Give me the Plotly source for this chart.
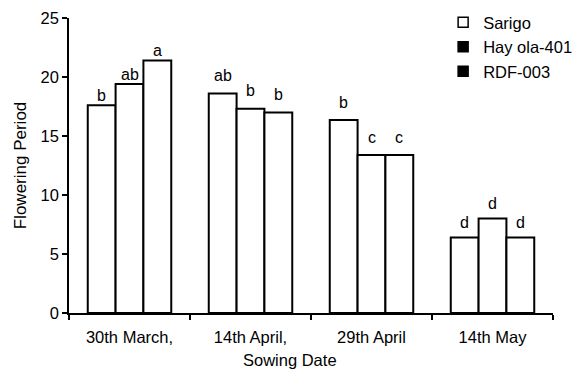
import plotly.graph_objects as go

categories = ["30th March,", "14th April,", "29th April", "14th May"]
series_names = ["Sarigo", "Hay ola-401", "RDF-003"]
legend_colors = ["white", "black", "black"]
sarigo = [17.6, 18.6, 16.35, 6.4]
hayola = [19.4, 17.3, 13.4, 8.0]
rdf = [21.4, 17.0, 13.4, 6.4]
series_values = [sarigo, hayola, rdf]
sarigo_letters = ["b", "ab", "b", "d"]
hayola_letters = ["ab", "b", "c", "d"]
rdf_letters = ["a", "b", "c", "d"]
series_letters = [sarigo_letters, hayola_letters, rdf_letters]
y_ticks = [0, 5, 10, 15, 20, 25]

FONT = "Liberation Sans, Arial, sans-serif"
W, H = 577, 371
ML, MR, MT, MB = 69, 24, 18, 58
BARGAP = 0.31
label_shift = [-1, 7.5, 7, 4.5]  # px offset of letters above bar tops per date group

fig = go.Figure()
for name, vals in zip(series_names, series_values):
    fig.add_trace(go.Bar(
        x=categories, y=vals, name=name, showlegend=False,
        marker=dict(color="white", line=dict(color="black", width=2)),
        hoverinfo="x+y",
    ))
for name, col in zip(series_names, legend_colors):
    fig.add_trace(go.Scatter(
        x=[None], y=[None], mode="markers", name=name,
        marker=dict(symbol="square", size=10, color=col, line=dict(color="black", width=1.5)),
    ))

plot_w = W - ML - MR
plot_h = H - MT - MB
bar_px = plot_w / len(categories) * (1 - BARGAP) / len(series_names)
annotations = []
for si, (vals, letters) in enumerate(zip(series_values, series_letters)):
    for ci, (cat, v, lab) in enumerate(zip(categories, vals, letters)):
        annotations.append(dict(
            x=cat, y=v, xref="x", yref="y", text=lab, showarrow=False,
            xshift=(si - 1) * bar_px, yanchor="bottom", yshift=label_shift[ci],
            font=dict(family=FONT, size=16, color="black"),
        ))
annotations.append(dict(
    x=(290 - ML) / plot_w, y=-47 / plot_h, xref="paper", yref="paper",
    xanchor="center", yanchor="middle",
    text="Sowing Date", showarrow=False, font=dict(family=FONT, size=16.5, color="black"),
))

fig.update_layout(
    width=W, height=H,
    margin=dict(l=ML, r=MR, t=MT, b=MB, pad=0, autoexpand=False),
    paper_bgcolor="white", plot_bgcolor="white",
    barmode="group", bargap=BARGAP, bargroupgap=0,
    font=dict(family=FONT, size=16, color="black"),
    annotations=annotations,
    legend=dict(x=0.773, y=1.044, xanchor="left", yanchor="top",
                bgcolor="rgba(0,0,0,0)", font=dict(family=FONT, size=16.5, color="black"),
                itemwidth=30, tracegroupgap=0),
    xaxis=dict(
        showline=True, linecolor="black", linewidth=1.5,
        ticks="outside", tickson="boundaries", ticklen=5, tickcolor="black", tickwidth=1.5,
        ticklabelstandoff=8, tickfont=dict(family=FONT, size=16.5, color="black"),
        showgrid=False, zeroline=False, fixedrange=True,
    ),
    yaxis=dict(
        range=[0, 25], tickvals=y_ticks, showline=True, linecolor="black", linewidth=1.5,
        ticks="outside", ticklen=5, tickcolor="black", tickwidth=1.5,
        tickfont=dict(family=FONT, size=16.5, color="black"),
        showgrid=False, zeroline=False,
        title=dict(text="Flowering Period", standoff=10, font=dict(family=FONT, size=17, color="black")),
    ),
)

fig.write_html("out.html")
